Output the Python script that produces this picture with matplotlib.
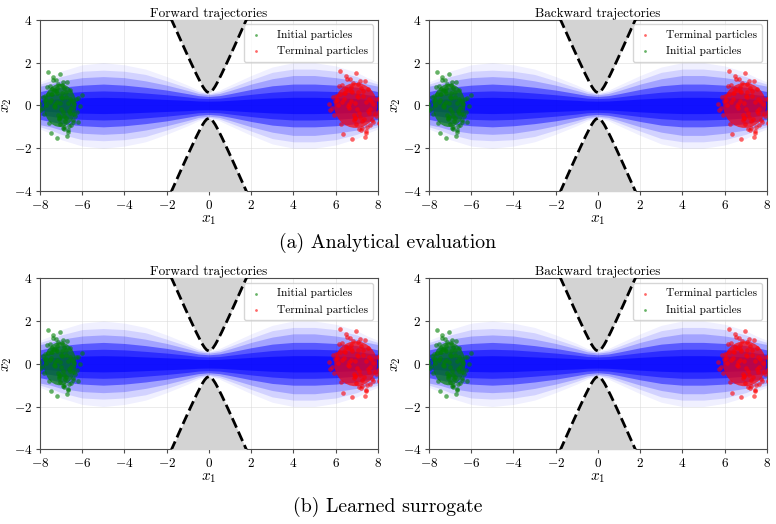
import numpy as np
from matplotlib import pyplot as plt
from matplotlib.patches import Ellipse

# 字体: Computer Modern (matplotlib 自带 cmr10)
plt.rcParams['font.family'] = ['cmr10', 'DejaVu Serif']
plt.rcParams['mathtext.fontset'] = 'cm'
plt.rcParams['axes.formatter.use_mathtext'] = True
plt.rcParams['axes.unicode_minus'] = True

# ---------------- data ----------------
# trajectory band: x1 positions and half widths of the density layers
band_x1 = [-8, -7.5, -7, -6, -5, -4, -3, -2, -1, -0.5, 0, 0.5, 1, 2, 3, 4, 5, 6, 7, 7.5, 8]
band_outer = [1.1, 1.3, 1.6, 1.9, 2.0, 1.9, 1.7, 1.35, 0.95, 0.72, 0.6, 0.72, 0.95, 1.4, 1.8, 2.0, 2.0, 1.85, 1.55, 1.3, 1.1]
band_l2 = [1.0, 1.15, 1.35, 1.6, 1.65, 1.6, 1.45, 1.15, 0.82, 0.64, 0.55, 0.64, 0.82, 1.2, 1.55, 1.7, 1.7, 1.6, 1.35, 1.15, 1.0]
band_mid = [0.9, 1.0, 1.15, 1.3, 1.35, 1.3, 1.15, 0.95, 0.7, 0.56, 0.5, 0.56, 0.7, 1.0, 1.25, 1.4, 1.4, 1.3, 1.15, 1.0, 0.9]
band_core = [0.65, 0.75, 0.85, 0.95, 1.0, 0.95, 0.85, 0.72, 0.55, 0.46, 0.42, 0.46, 0.55, 0.75, 0.92, 1.0, 1.0, 0.95, 0.85, 0.75, 0.65]
band_inner = [0.45, 0.5, 0.58, 0.65, 0.68, 0.65, 0.58, 0.5, 0.4, 0.34, 0.32, 0.34, 0.4, 0.52, 0.62, 0.68, 0.68, 0.65, 0.58, 0.5, 0.45]
band_deep = [0.25, 0.28, 0.32, 0.36, 0.38, 0.36, 0.32, 0.28, 0.24, 0.21, 0.2, 0.21, 0.24, 0.3, 0.35, 0.38, 0.38, 0.36, 0.32, 0.28, 0.25]

# obstacle boundary (upper; lower one is mirrored)
obs_x1 = [-1.8, -1.5, -1.2, -0.9, -0.6, -0.4, -0.3, -0.2, -0.1, 0.0, 0.1, 0.2, 0.3, 0.4, 0.6, 0.9, 1.2, 1.5, 1.8]
obs_x2 = [4.07, 3.41, 2.75, 2.10, 1.47, 1.08, 0.90, 0.75, 0.64, 0.60, 0.64, 0.75, 0.90, 1.08, 1.47, 2.10, 2.75, 3.41, 4.07]

# particle cloud offsets around the cloud centre
cloud_dx = [-0.62, 0.15, 0.41, -0.23, 0.05, -0.48, 0.33, 0.72, -0.09, 0.27,
            -0.35, 0.58, -0.71, 0.12, -0.17, 0.44, 0.03, -0.55, 0.21, -0.02,
            0.66, -0.29, 0.09, -0.83, 0.37, -0.12, 0.51, -0.41, 0.18, -0.66,
            0.85, -0.06, 0.29, -0.37, 0.62, 0.01, -0.21, 0.47, -0.52, 0.11,
            -0.14, 0.34, -0.78, 0.24, -0.31, 0.79, -0.04, 0.56, -0.45, 0.07,
            0.39, -0.26, 0.16, -0.59, 0.93, -0.11, 0.25, -0.68, 0.48, -0.19,
            0.02, -0.39, 0.69, -0.07, 0.31, -0.87, 0.13, -0.33, 0.54, -0.24,
            0.19, -0.50, 0.42, -0.15, 0.76, -0.44, 0.08, -0.73, 0.35, -0.01]
cloud_dy = [0.21, -0.44, 0.63, -0.08, 0.35, -0.71, 0.12, -0.25, 0.88, -0.53,
            0.47, 0.04, -0.36, -0.92, 0.58, 0.27, -0.15, 0.76, -0.62, 0.09,
            -0.41, 1.05, 0.32, -0.19, -0.83, 0.51, 0.17, -1.12, 0.69, 0.38,
            -0.02, -0.57, 0.94, 0.24, -0.33, 1.28, 0.06, -0.78, 0.45, -0.28,
            0.73, -1.01, -0.11, 0.55, 1.16, 0.29, -0.49, -0.66, 0.14, 0.83,
            -0.21, 0.61, -0.94, 0.03, 0.42, -1.31, 0.36, 0.19, -0.12, 1.02,
            -0.74, 0.48, 0.26, -0.39, -1.24, 0.07, 0.97, 0.66, -0.58, -0.04,
            -0.87, 1.36, -0.31, 0.16, -0.69, 0.81, 0.52, 0.33, -1.06, -0.47]

# cloud centres (x1, x2) and spread (sx, sy) for initial (green) / terminal (red)
initial_center = (-7.05, 0.0)
initial_spread = (1.1, 1.15)
terminal_center = (6.95, 0.0)
terminal_spread = (1.45, 1.2)

panel_titles = ['Forward trajectories', 'Backward trajectories']
captions = ['(a) Analytical evaluation', '(b) Learned surrogate']
x_ticks = [-8, -6, -4, -2, 0, 2, 4, 6, 8]
y_ticks = [-4, -2, 0, 2, 4]

# ---------------- drawing ----------------
fig = plt.figure(figsize=(7.76, 5.24), dpi=100)

col_left = [0.0515, 0.5528]
col_width = 0.4355
row_bottom = [0.6355, 0.1425]
row_height = 0.3265

dx = np.array(cloud_dx)
dy = np.array(cloud_dy)
ox = np.array(obs_x1)
oy = np.array(obs_x2)
layers = [(band_outer, 0.06), (band_l2, 0.12), (band_mid, 0.22),
          (band_core, 0.45), (band_inner, 0.5), (band_deep, 0.6)]


def draw_cloud(ax, center, spread, color, label):
    ax.add_patch(Ellipse(center, 1.4 * spread[0], 1.75 * spread[1],
                         color=color, alpha=0.7, lw=0, zorder=3))
    return ax.scatter(center[0] + dx * spread[0], center[1] + dy * spread[1],
                      s=11, color=color, alpha=0.6, lw=0, zorder=4, label=label)


for r in range(2):
    for c in range(2):
        ax = fig.add_axes([col_left[c], row_bottom[r], col_width, row_height])

        # trajectory density layers
        for half, a in layers:
            h = np.array(half)
            ax.fill_between(band_x1, -h, h, color='blue', alpha=a, lw=0, zorder=2)

        # obstacles
        ax.fill_between(ox, oy, 4.5, color='lightgrey', zorder=5, lw=0)
        ax.fill_between(ox, -oy, -4.5, color='lightgrey', zorder=5, lw=0)
        ax.plot(ox, oy, 'k--', lw=2, zorder=6)
        ax.plot(ox, -oy, 'k--', lw=2, zorder=6)

        h_init = draw_cloud(ax, initial_center, initial_spread, 'green', 'Initial particles')
        h_term = draw_cloud(ax, terminal_center, terminal_spread, 'red', 'Terminal particles')

        if c == 0:
            handles = [h_init, h_term]
        else:
            handles = [h_term, h_init]
        leg = ax.legend(handles=handles, loc='upper right', fontsize=8.2,
                        framealpha=0.8, edgecolor='0.8', handlelength=1.2,
                        handletextpad=1.2, borderpad=0.5, labelspacing=0.55,
                        borderaxespad=0.4, markerscale=0.6)
        leg.set_zorder(10)

        ax.set_xlim(-8, 8)
        ax.set_ylim(-4, 4)
        ax.set_xticks(x_ticks)
        ax.set_yticks(y_ticks)
        ax.grid(True, color='0.85', lw=0.6, alpha=0.6)
        ax.set_axisbelow(True)
        ax.tick_params(labelsize=9.5, length=3, color='0.3', pad=2.5)
        for s in ax.spines.values():
            s.set_color('0.3')
        ax.set_title(panel_titles[c], fontsize=9.5, pad=2)
        ax.set_xlabel('$x_1$', fontsize=11, labelpad=1)
        ax.set_ylabel('$x_2$', fontsize=11, labelpad=0)

fig.text(0.5, 1 - 243 / 524, captions[0], ha='center', va='center', fontsize=14.3)
fig.text(0.5, 1 - 507 / 524, captions[1], ha='center', va='center', fontsize=14.3)

plt.savefig('out.png', dpi=100)
